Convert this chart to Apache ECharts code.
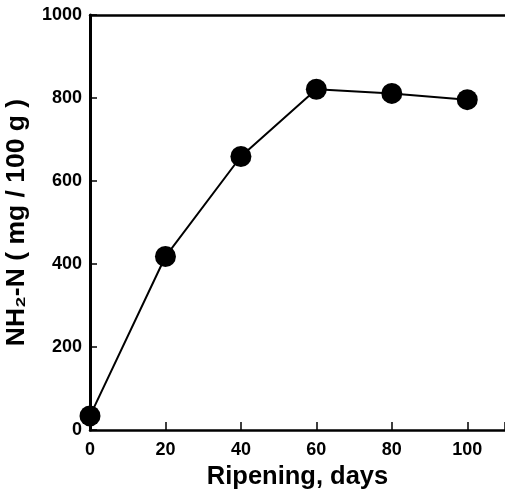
<!DOCTYPE html>
<html>
<head>
<meta charset="utf-8">
<script src="https://cdn.jsdelivr.net/npm/echarts@6/dist/echarts.min.js"></script>
<style>
  html, body { margin: 0; padding: 0; background: #fff; }
  #chart { width: 505px; height: 496px; }
</style>
</head>
<body>
<div id="chart"></div>
<script>
// ripening time (days) and amino nitrogen
var days = [0, 20, 40, 60, 80, 100];
var nh2n = [34, 418, 659, 821, 811, 796];
var xTicks = [0, 20, 40, 60, 80, 100];
var yTicks = [0, 200, 400, 600, 800, 1000];

var points = days.map(function (d, i) { return [d, nh2n[i]]; });

var myChart = echarts.init(document.getElementById('chart'));
myChart.setOption({
  animation: false,
  grid: {
    left: 90,
    right: 0,
    top: 15,
    bottom: 66,
    containLabel: false,
    outerBoundsMode: 'none'
  },
  xAxis: [
    {
      type: 'value',
      min: 0,
      max: 110,
      interval: 20,
      name: 'Ripening, days',
      nameLocation: 'middle',
      nameGap: 34,
      nameTextStyle: {
        fontFamily: 'Liberation Sans',
        fontWeight: 'bold',
        fontSize: 25.5,
        color: '#000'
      },
      axisLine: { lineStyle: { color: '#000', width: 2.5 } },
      axisTick: { inside: true, length: 8, lineStyle: { color: '#000', width: 1.5 } },
      axisLabel: {
        margin: 11,
        fontFamily: 'Liberation Sans',
        fontWeight: 'bold',
        fontSize: 18,
        color: '#000',
        formatter: function (v) { return xTicks.indexOf(v) >= 0 ? String(v) : ''; }
      },
      splitLine: { show: false }
    },
    {
      // top frame line
      type: 'value',
      position: 'top',
      min: 0,
      max: 110,
      axisLine: { show: true, onZero: false, lineStyle: { color: '#000', width: 2.5 } },
      axisTick: { show: false },
      axisLabel: { show: false },
      splitLine: { show: false }
    }
  ],
  yAxis: {
    type: 'value',
    min: 0,
    max: 1000,
    interval: 200,
    name: 'NH₂-N ( mg / 100 g )',
    nameLocation: 'middle',
    nameGap: 60,
    nameTextStyle: {
      fontFamily: 'Liberation Sans',
      fontWeight: 'bold',
      fontSize: 26.5,
      color: '#000'
    },
    axisLine: { show: true, lineStyle: { color: '#000', width: 3 } },
    axisTick: { show: true, inside: true, length: 7, lineStyle: { color: '#000', width: 1.5 } },
    axisLabel: {
      margin: 8,
      fontFamily: 'Liberation Sans',
      fontWeight: 'bold',
      fontSize: 18,
      color: '#000',
      formatter: function (v) { return yTicks.indexOf(v) >= 0 ? String(v) : ''; }
    },
    splitLine: { show: false }
  },
  series: [
    {
      type: 'line',
      data: points,
      symbol: 'circle',
      symbolSize: 21,
      itemStyle: { color: '#000' },
      lineStyle: { color: '#000', width: 2 },
      clip: false
    }
  ]
});
</script>
</body>
</html>
